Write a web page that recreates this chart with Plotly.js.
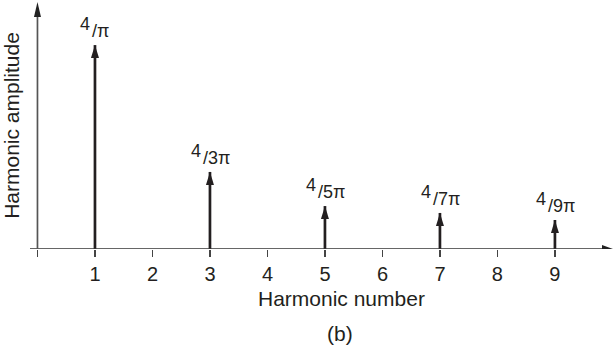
<!DOCTYPE html>
<html><head><meta charset="utf-8">
<script src="https://cdn.plot.ly/plotly-3.0.1.min.js"></script>
<style>html,body{margin:0;padding:0;background:#fff}#chart{width:613px;height:352px}</style>
</head><body><div id="chart"></div>
<script>
// Data
const harmonics = [1, 3, 5, 7, 9];
const amplitudes = [1.273, 0.481, 0.268, 0.225, 0.181];
const labelNumerators = ['4', '4', '4', '4', '4'];
const labelDenominators = ['π', '3π', '5π', '7π', '9π'];
const tickVals = [0, 1, 2, 3, 4, 5, 6, 7, 8, 9];
const tickText = ['', '1', '2', '3', '4', '5', '6', '7', '8', '9'];
const xTitle = 'Harmonic number';
const yTitle = 'Harmonic amplitude';
const panelLabel = '(b)';

const INK = '#231f20';
const FONT = 'Liberation Sans, Arial, Helvetica, sans-serif';
const ML = 30, MR = 0, MT = 2, MB = 103, W = 613, H = 352;
const px2paperX = p => (p - ML) / (W - ML - MR);
const px2paperY = p => (H - MB - p) / (H - MB - MT);

// stems
const sx = [], sy = [];
harmonics.forEach((h, i) => { sx.push(h, h, null); sy.push(0, amplitudes[i], null); });

const traces = [{
  type: 'scatter', mode: 'lines', x: sx, y: sy,
  line: {color: INK, width: 2.7}, hoverinfo: 'skip', showlegend: false
}];

const shapes = [];
// arrowheads on stems
harmonics.forEach((h, i) => {
  shapes.push({type: 'path', xref: 'x', yref: 'y', xsizemode: 'pixel', ysizemode: 'pixel',
    xanchor: h, yanchor: amplitudes[i], path: 'M0,0 L-4,-13 L4,-13 Z',
    fillcolor: INK, line: {width: 0}});
});
// x axis line + arrow
shapes.push({type: 'line', xref: 'paper', yref: 'y', x0: 0, x1: 0.985, y0: 0, y1: 0,
  line: {color: '#333', width: 1.7}});
shapes.push({type: 'path', xref: 'paper', yref: 'y', xsizemode: 'pixel', ysizemode: 'pixel',
  xanchor: 1, yanchor: 0, path: 'M0,0 L-11,4 L-11,-4 Z', fillcolor: '#222', line: {width: 0}});
// y axis line + arrow
shapes.push({type: 'line', xref: 'x', yref: 'paper', x0: 0, x1: 0, y0: 0, y1: 0.97,
  line: {color: '#555', width: 1.7}});
shapes.push({type: 'path', xref: 'x', yref: 'paper', xsizemode: 'pixel', ysizemode: 'pixel',
  xanchor: 0, yanchor: 1, path: 'M0,0 L-3.5,-15 L3.5,-15 Z', fillcolor: '#222', line: {width: 0}});

const annotations = [];
harmonics.forEach((h, i) => {
  const split = -1 - 3.25 * labelDenominators[i].length;
  annotations.push({
    x: h, y: amplitudes[i], xref: 'x', yref: 'y', showarrow: false,
    xanchor: 'right', yanchor: 'bottom', xshift: split, yshift: 10, borderpad: 0,
    text: labelNumerators[i], font: {family: FONT, size: 18, color: INK}
  });
  annotations.push({
    x: h, y: amplitudes[i], xref: 'x', yref: 'y', showarrow: false,
    xanchor: 'left', yanchor: 'bottom', xshift: split, yshift: 3, borderpad: 0,
    text: '/' + labelDenominators[i], font: {family: FONT, size: 18, color: INK}
  });
});
annotations.push({x: px2paperX(341), y: px2paperY(298),
  xref: 'paper', yref: 'paper', xanchor: 'center', yanchor: 'middle', showarrow: false,
  text: xTitle, font: {family: FONT, size: 21, color: INK}});
annotations.push({x: px2paperX(340), y: px2paperY(333),
  xref: 'paper', yref: 'paper', xanchor: 'center', yanchor: 'middle', showarrow: false,
  text: panelLabel, font: {family: FONT, size: 21, color: INK}});

const layout = {
  width: W, height: H,
  margin: {l: ML, r: MR, t: MT, b: MB},
  paper_bgcolor: '#fff', plot_bgcolor: '#fff',
  showlegend: false,
  font: {family: FONT, color: INK},
  xaxis: {
    range: [-0.13, 10.01], tickvals: tickVals, ticktext: tickText,
    ticks: 'outside', ticklen: 7, tickwidth: 1.7, tickcolor: '#444',
    showline: false, showgrid: false, zeroline: false,
    tickfont: {family: FONT, size: 20, color: INK},
    fixedrange: true
  },
  yaxis: {
    range: [0, 1.542], showticklabels: false, ticks: '', showline: false,
    showgrid: false, zeroline: false,
    title: {text: yTitle, font: {family: FONT, size: 21, color: INK}, standoff: 4},
    fixedrange: true
  },
  shapes: shapes,
  annotations: annotations
};

Plotly.newPlot('chart', traces, layout, {displayModeBar: false, staticPlot: true});
</script>
</body></html>
